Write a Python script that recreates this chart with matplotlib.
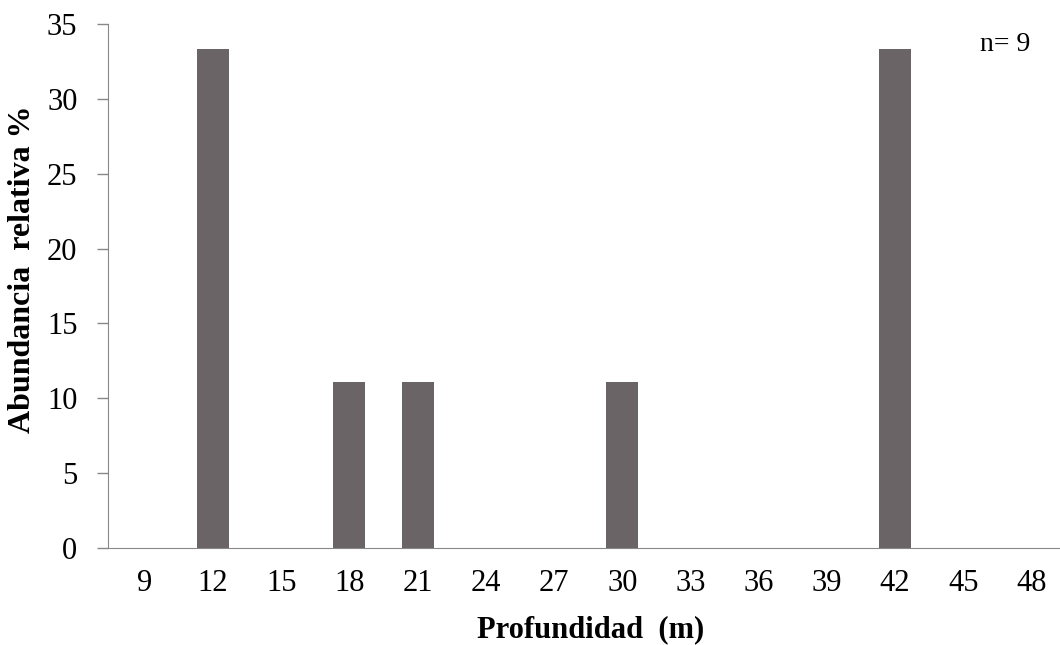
import matplotlib
matplotlib.use("Agg")
import matplotlib.pyplot as plt
import numpy as np

# Depth classes (m) and relative abundance (%) of the n = 9 records
depths = [9, 12, 15, 18, 21, 24, 27, 30, 33, 36, 39, 42, 45, 48]
abundance = [0, 33.33, 0, 11.11, 11.11, 0, 0, 11.11, 0, 0, 0, 33.33, 0, 0]
y_ticks = [0, 5, 10, 15, 20, 25, 30, 35]

plt.rcParams['font.family'] = ['Liberation Serif', 'DejaVu Serif']

fig = plt.figure(figsize=(10.6, 6.45), dpi=100)
ax = fig.add_axes([0.1019, 0.1504, 0.8981, 0.8124])

x = np.arange(len(depths))
ax.bar(x, abundance, width=0.47, color='#6a6466', zorder=2)

ax.set_xlim(-0.54, 13.42)
ax.set_ylim(0, 35)
ax.set_xticks(x)
ax.set_xticklabels([str(d) for d in depths], fontsize=22)
ax.set_yticks(y_ticks)
ax.set_yticklabels([str(v) for v in y_ticks], fontsize=22)

ax.tick_params(axis='x', length=0, pad=15)
ax.tick_params(axis='y', length=8, width=1, color='#888888', pad=14)

for side in ('top', 'right'):
    ax.spines[side].set_visible(False)
ax.spines['left'].set_color('#888888')
ax.spines['bottom'].set_color('#888888')

ax.set_ylabel('Abundancia  relativa %', fontsize=23, fontweight='bold')
ax.yaxis.set_label_coords(-0.0746, 0.532)
ax.set_xlabel('Profundidad  (m)', fontsize=22, fontweight='bold')
ax.xaxis.set_label_coords(0.507, -0.128)

ax.text(0.9685, 0.96, 'n= 9', transform=ax.transAxes, fontsize=20,
        ha='right', va='center')

fig.savefig('out.png', dpi=100)
